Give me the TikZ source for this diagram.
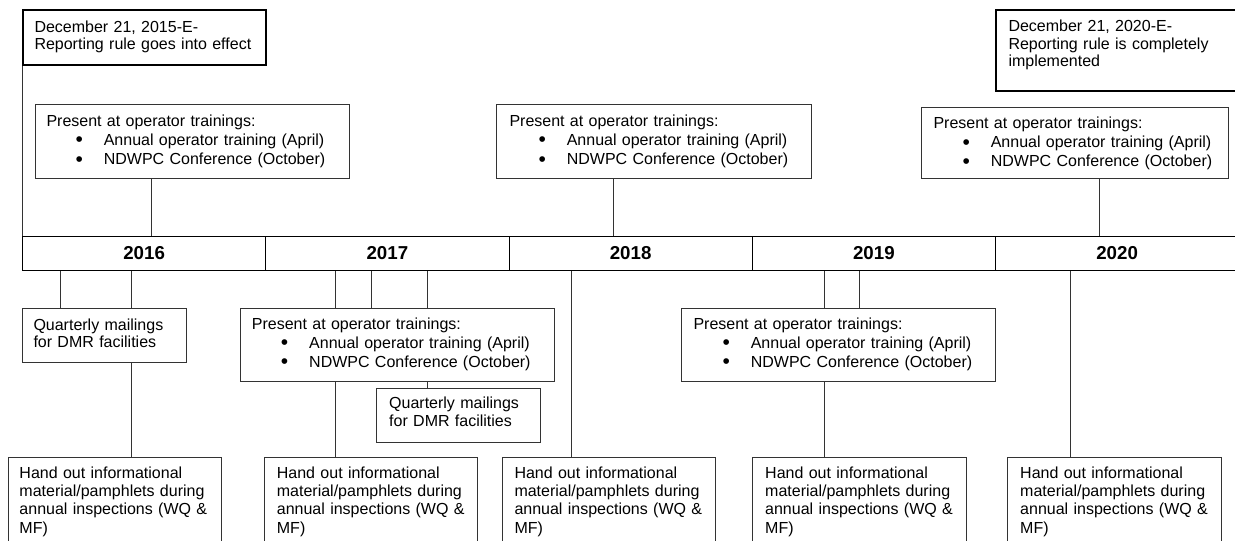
\documentclass[tikz,border=0pt]{standalone}
\usepackage{fontspec}
\setmainfont{Liberation Sans}
\usepackage{tikz}

\newcommand{\bul}{\hspace*{29pt}\makebox[28.3pt][l]{\raisebox{-1.5pt}{\fontsize{21}{21}\selectfont\textbullet}}}

\tikzset{
 datebox/.style={draw=black, line width=2pt, anchor=north west, inner sep=0pt},
 box/.style={draw=black!80, line width=1pt, anchor=north west, inner sep=0pt},
 txt/.style={anchor=base west, inner sep=0pt, text width=320pt, align=left, font=\fontsize{16}{18.3}\selectfont},
 listtxt/.style={txt, font=\fontsize{16}{19.4}\selectfont},
 yearcell/.style={draw=black, line width=1pt, anchor=north west, inner sep=0pt, minimum width=243.25pt, minimum height=34pt, font=\fontsize{18.7}{20}\selectfont\bfseries},
 link/.style={draw=black!80, line width=1pt}
}

\begin{document}
\begin{tikzpicture}[x=1pt,y=-1pt]
\clip (0,0) rectangle (1235,541);

\foreach \yr [count=\i from 0] in {2016,2017,2018,2019,2020}
	\node[yearcell] (y\yr) at ({22+243.25*\i},236) {\yr};

\node[datebox, minimum width=243pt, minimum height=55pt] (dec15) at (22,9) {};
\node[txt, font=\fontsize{16}{17.7}\selectfont] (dec15t) at (34.3,32) {December 21, 2015-E-\\Reporting rule goes into effect};
\node[datebox, minimum width=260pt, minimum height=81pt] (dec20) at (995,9) {};
\node[txt, font=\fontsize{16}{17.5}\selectfont] (dec20t) at (1008.3,31.7) {December 21, 2020-E-\\Reporting rule is completely\\implemented};

\node[box, minimum width=314pt, minimum height=74pt] (p16) at (35,104) {};
\node[listtxt] (p16t) at (46.3,126) {Present at operator trainings:\\\bul Annual operator training (April)\\\bul NDWPC Conference (October)};
\node[box, minimum width=315pt, minimum height=74pt] (p18) at (496,104) {};
\node[listtxt] (p18t) at (509.3,126) {Present at operator trainings:\\\bul Annual operator training (April)\\\bul NDWPC Conference (October)};
\node[box, minimum width=307pt, minimum height=71pt] (p20) at (921,107) {};
\node[listtxt, font=\fontsize{16}{19.2}\selectfont] (p20t) at (933.3,128.3) {Present at operator trainings:\\\bul Annual operator training (April)\\\bul NDWPC Conference (October)};

\node[box, minimum width=164pt, minimum height=54pt] (q16) at (22,308) {};
\node[txt, font=\fontsize{16}{17.6}\selectfont] (q16t) at (33.3,330) {Quarterly mailings\\for DMR facilities};
\node[box, minimum width=314pt, minimum height=73pt] (p17) at (240,308) {};
\node[listtxt, font=\fontsize{16}{19.2}\selectfont] (p17t) at (251.7,329) {Present at operator trainings:\\\bul Annual operator training (April)\\\bul NDWPC Conference (October)};
\node[box, minimum width=164pt, minimum height=54pt] (q17) at (376,388) {};
\node[txt, font=\fontsize{16}{18.2}\selectfont] (q17t) at (389,408.3) {Quarterly mailings\\for DMR facilities};
\node[box, minimum width=314pt, minimum height=73pt] (p19) at (681,308) {};
\node[listtxt, font=\fontsize{16}{19.2}\selectfont] (p19t) at (693.3,329) {Present at operator trainings:\\\bul Annual operator training (April)\\\bul NDWPC Conference (October)};

\node[box, minimum width=213pt, minimum height=100pt] (h16) at (8,457) {};
\node[txt] (h16t) at (19.3,478.3) {Hand out informational\\material/pamphlets during\\annual inspections (WQ \&\\MF)};
\node[box, minimum width=213pt, minimum height=100pt] (h17) at (264,457) {};
\node[txt] (h17t) at (276.7,478.3) {Hand out informational\\material/pamphlets during\\annual inspections (WQ \&\\MF)};
\node[box, minimum width=213pt, minimum height=100pt] (h18) at (502,457) {};
\node[txt] (h18t) at (514.3,478.3) {Hand out informational\\material/pamphlets during\\annual inspections (WQ \&\\MF)};
\node[box, minimum width=214pt, minimum height=100pt] (h19) at (752,457) {};
\node[txt] (h19t) at (765,478.3) {Hand out informational\\material/pamphlets during\\annual inspections (WQ \&\\MF)};
\node[box, minimum width=214pt, minimum height=100pt] (h20) at (1007,457) {};
\node[txt] (h20t) at (1020,478.3) {Hand out informational\\material/pamphlets during\\annual inspections (WQ \&\\MF)};

\draw[link] (dec15.south west) -- (dec15.south west |- y2016.north);
\draw[link] (p16.south -| 151,0) -- (y2016.north -| 151,0);
\draw[link] (p18.south -| 613,0) -- (y2018.north -| 613,0);
\draw[link] (p20.south -| 1099,0) -- (y2020.north -| 1099,0);

\foreach \x in {60,131}
	\draw[link] (y2016.south -| \x,0) -- (q16.north -| \x,0);
\draw[link] (q16.south -| 131,0) -- (h16.north -| 131,0);

\foreach \x in {335,371,427}
	\draw[link] (y2017.south -| \x,0) -- (p17.north -| \x,0);
\draw[link] (p17.south -| 427,0) -- (q17.north -| 427,0);
\draw[link] (p17.south -| 335,0) -- (h17.north -| 335,0);

\draw[link] (y2018.south -| 571,0) -- (h18.north -| 571,0);

\foreach \x in {824,859}
	\draw[link] (y2019.south -| \x,0) -- (p19.north -| \x,0);
\draw[link] (p19.south -| 824,0) -- (h19.north -| 824,0);

\draw[link] (y2020.south -| 1070,0) -- (h20.north -| 1070,0);

\end{tikzpicture}
\end{document}
